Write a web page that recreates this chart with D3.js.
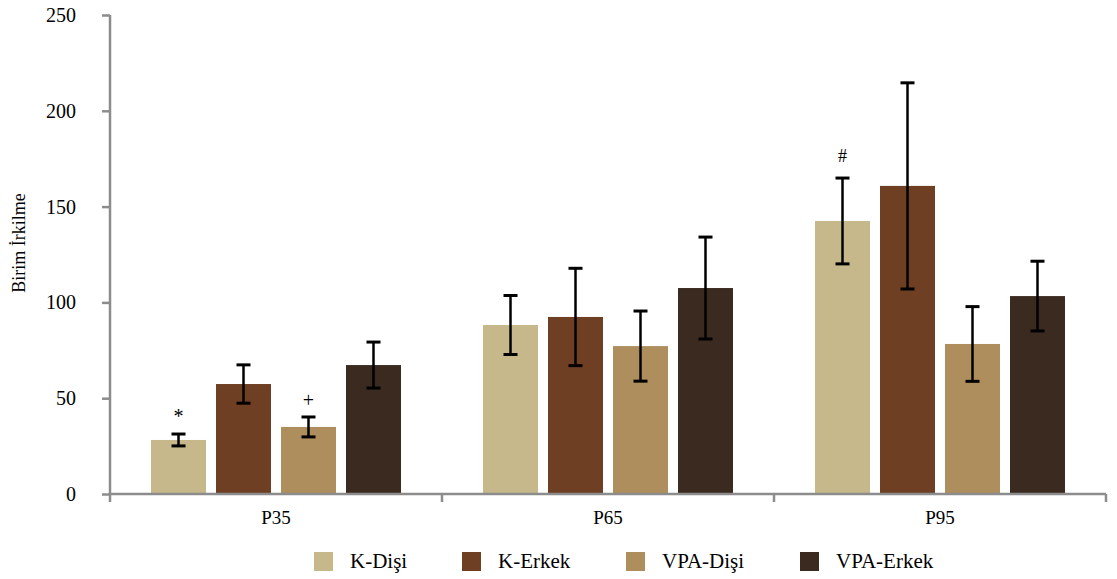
<!DOCTYPE html>
<html>
<head>
<meta charset="utf-8">
<script src="https://cdn.jsdelivr.net/npm/d3@7"></script>
<style>
  body { margin: 0; background: #fff; }
  text { font-family: "Liberation Serif", "Times New Roman", serif; fill: #000; }
</style>
</head>
<body>
<div id="chart"></div>
<script>
var categories = ["P35", "P65", "P95"];
var series = ["K-Dişi", "K-Erkek", "VPA-Dişi", "VPA-Erkek"];
var colors = ["#c6b88b", "#6e3f23", "#ae8e5d", "#3b2a1f"];

// mean values per series, in category order
var kDisi    = [28.2, 88.2, 142.5];
var kErkek   = [57.4, 92.4, 160.8];
var vpaDisi  = [35.0, 77.2, 78.3];
var vpaErkek = [67.3, 107.5, 103.3];

// error (+/-) per series
var kDisiErr    = [3.1, 15.4, 22.4];
var kErkekErr   = [10.0, 25.4, 53.8];
var vpaDisiErr  = [5.2, 18.3, 19.5];
var vpaErkekErr = [12.0, 26.6, 18.2];

var yTicks = [0, 50, 100, 150, 200, 250];

// significance marks: [category, series, symbol]
var marks = [["P35", "K-Dişi", "*"], ["P35", "VPA-Dişi", "+"], ["P95", "K-Dişi", "#"]];

var values = [kDisi, kErkek, vpaDisi, vpaErkek];
var errors = [kDisiErr, kErkekErr, vpaDisiErr, vpaErkekErr];

var data = [];
categories.forEach(function(c, ci) {
  series.forEach(function(s, si) {
    data.push({cat: c, ser: s, si: si, v: values[si][ci], e: errors[si][ci]});
  });
});

var width = 1117, height = 579;
var plotLeft = 110, plotRight = 1106, plotTop = 15, plotBottom = 494;

var svg = d3.select("#chart").append("svg")
    .attr("width", width)
    .attr("height", height);

var x = d3.scaleBand().domain(categories).range([plotLeft, plotRight]).padding(0);
var xs = d3.scaleBand().domain(series).range([0, x.bandwidth()])
    .paddingInner(0.154).paddingOuter(0.631);
var y = d3.scaleLinear().domain([0, 250]).range([plotBottom, plotTop]);

// bars
svg.append("g").selectAll("rect")
  .data(data)
  .enter().append("rect")
    .attr("x", function(d) { return x(d.cat) + xs(d.ser); })
    .attr("y", function(d) { return y(d.v); })
    .attr("width", xs.bandwidth())
    .attr("height", function(d) { return y(0) - y(d.v); })
    .attr("fill", function(d) { return colors[d.si]; });

// axes
var axisColor = "#8c8c8c";
var yAxis = svg.append("g")
    .attr("transform", "translate(" + plotLeft + ",0)")
    .call(d3.axisLeft(y).tickValues(yTicks).tickSize(8).tickPadding(26));
yAxis.select(".domain").remove();
yAxis.append("line")
    .attr("x1", 0).attr("x2", 0)
    .attr("y1", y(250)).attr("y2", plotBottom + 8)
    .attr("stroke", axisColor).attr("stroke-width", 2.5);
yAxis.selectAll(".tick line").attr("stroke", axisColor).attr("stroke-width", 2.5);
yAxis.selectAll(".tick text").attr("font-size", "20px")
    .style("font-family", "'Liberation Serif', serif");

var xAxis = svg.append("g")
    .attr("transform", "translate(0," + plotBottom + ")");
xAxis.append("line")
    .attr("x1", plotLeft).attr("x2", plotRight)
    .attr("stroke", axisColor).attr("stroke-width", 2.5);
xAxis.selectAll(".sep")
  .data(categories)
  .enter().append("line")
    .attr("x1", function(d) { return x(d) + x.bandwidth(); })
    .attr("x2", function(d) { return x(d) + x.bandwidth(); })
    .attr("y1", 0).attr("y2", 8)
    .attr("stroke", axisColor).attr("stroke-width", 2.5);
xAxis.selectAll(".lbl")
  .data(categories)
  .enter().append("text")
    .attr("x", function(d) { return x(d) + x.bandwidth() / 2; })
    .attr("y", 30)
    .attr("text-anchor", "middle")
    .attr("font-size", "19px")
    .text(function(d) { return d; });

// error bars
var eb = svg.append("g").selectAll("g")
  .data(data)
  .enter().append("g")
    .attr("transform", function(d) { return "translate(" + (x(d.cat) + xs(d.ser) + xs.bandwidth() / 2) + ",0)"; });
eb.append("line")
    .attr("y1", function(d) { return y(d.v + d.e); })
    .attr("y2", function(d) { return y(d.v - d.e); })
    .attr("stroke", "#000").attr("stroke-width", 2.5);
eb.append("line")
    .attr("x1", -7).attr("x2", 7)
    .attr("y1", function(d) { return y(d.v + d.e); })
    .attr("y2", function(d) { return y(d.v + d.e); })
    .attr("stroke", "#000").attr("stroke-width", 3);
eb.append("line")
    .attr("x1", -7).attr("x2", 7)
    .attr("y1", function(d) { return y(d.v - d.e); })
    .attr("y2", function(d) { return y(d.v - d.e); })
    .attr("stroke", "#000").attr("stroke-width", 3);

// significance marks (style per symbol)
var markStyle = {"*": {size: 20, gap: 11}, "+": {size: 20, gap: 10}, "#": {size: 18, gap: 16}};
svg.append("g").selectAll("text")
  .data(marks)
  .enter().append("text")
    .attr("x", function(d) { return x(d[0]) + xs(d[1]) + xs.bandwidth() / 2; })
    .attr("y", function(d) {
      var si = series.indexOf(d[1]), ci = categories.indexOf(d[0]);
      return y(values[si][ci] + errors[si][ci]) - markStyle[d[2]].gap;
    })
    .attr("text-anchor", "middle")
    .attr("font-size", function(d) { return markStyle[d[2]].size + "px"; })
    .attr("fill", "#333")
    .text(function(d) { return d[2]; });

// y title
svg.append("text")
    .attr("transform", "translate(25,243) rotate(-90)")
    .attr("text-anchor", "middle")
    .attr("font-size", "18px")
    .text("Birim İrkilme");

// legend
var legendX = [314, 462, 626, 800];
var lg = svg.append("g").selectAll("g")
  .data(series)
  .enter().append("g")
    .attr("transform", function(d, i) { return "translate(" + legendX[i] + ",552)"; });
lg.append("rect")
    .attr("width", 19).attr("height", 19)
    .attr("fill", function(d, i) { return colors[i]; });
lg.append("text")
    .attr("x", 36).attr("y", 16)
    .attr("font-size", "21px")
    .text(function(d) { return d; });
</script>
</body>
</html>
